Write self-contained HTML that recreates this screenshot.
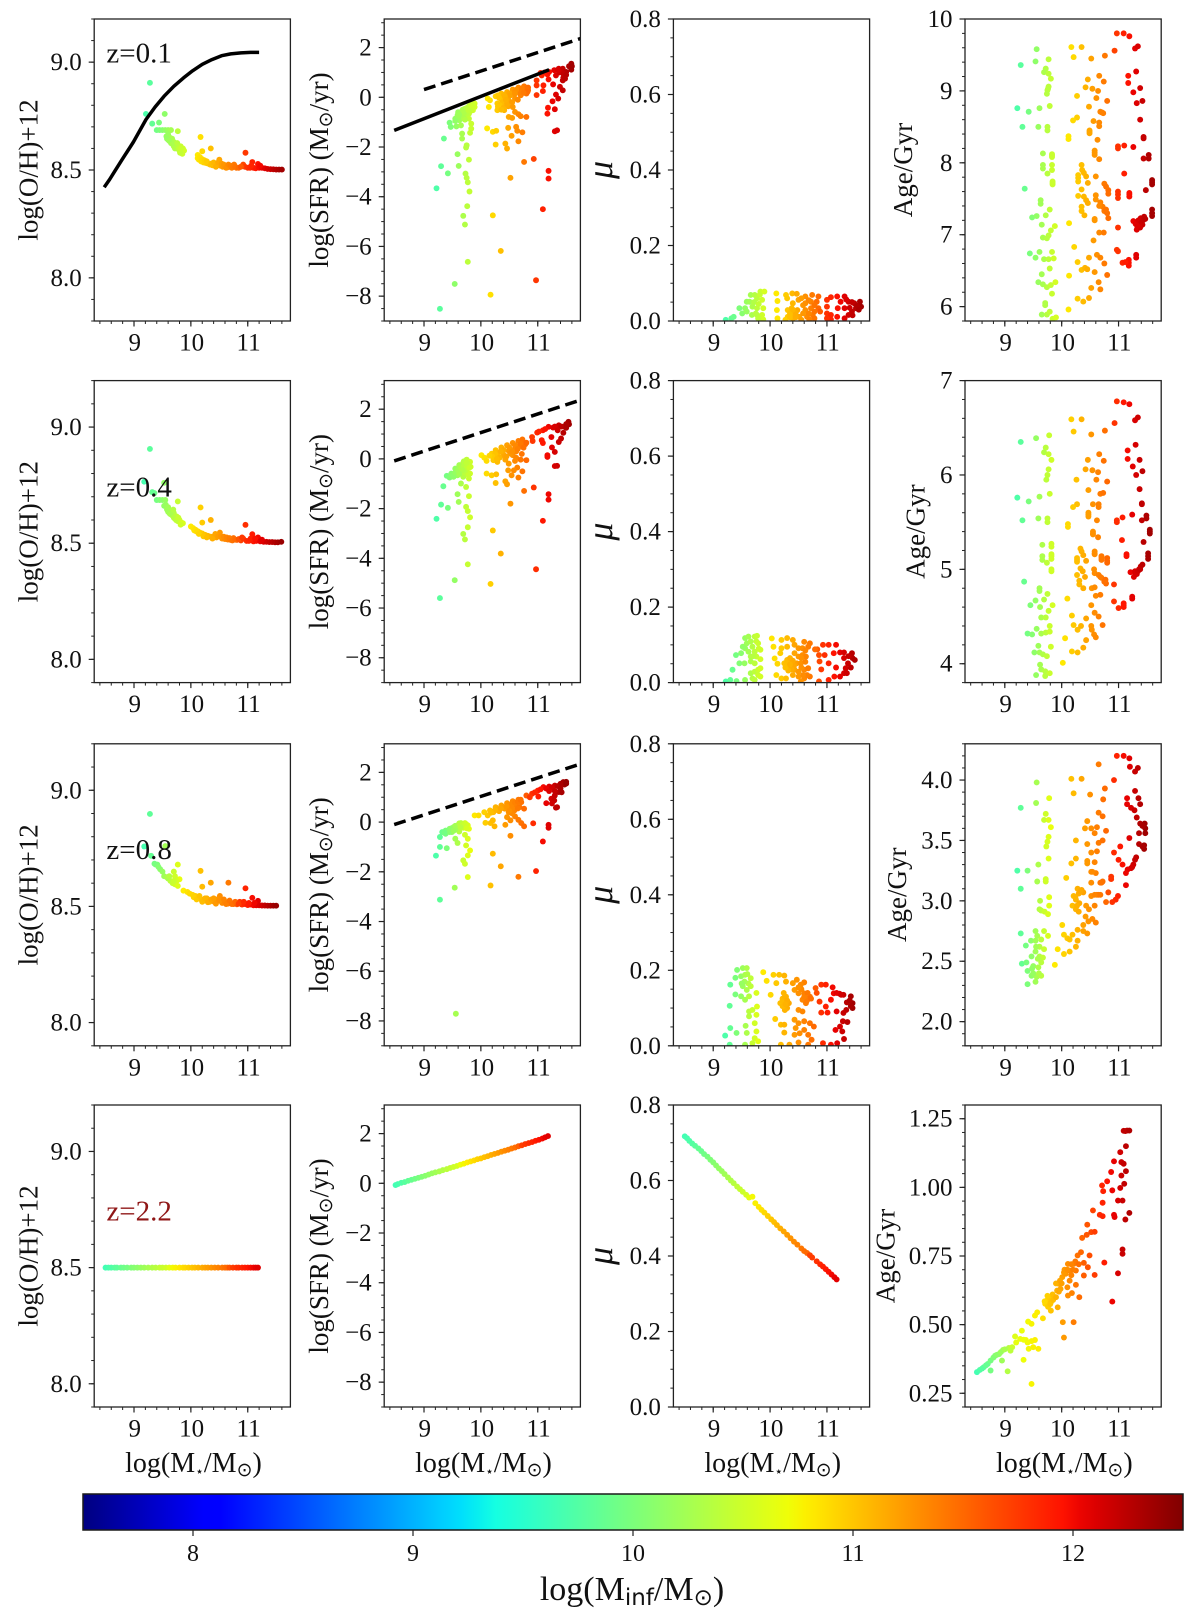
<!DOCTYPE html>
<html><head><meta charset="utf-8"><title>Galaxy scaling relations</title>
<style>html,body{margin:0;padding:0;background:#fff}svg{display:block}text{font-family:"Liberation Serif","DejaVu Serif",serif;fill:#111}</style>
</head><body>
<svg id="fig" xmlns="http://www.w3.org/2000/svg" width="1200" height="1618" viewBox="0 0 1200 1618"><defs id="defs"></defs></svg>
<script>
const massTicks=[9,10,11];
const colorbarTicks=[8,9,10,11,12];
const colorbarRange=[7.5,12.5];
const starMassRange=[8.3,11.75];
const ohRange27=[7.8,9.2];
const ohRange=[7.9,9.2];
const ohTicks=[8.0,8.5,9.0];
const sfrRange=[-9,3.15];
const sfrTicks=[-8,-6,-4,-2,0,2];
const muRange=[0,0.8];
const muTicks=[0,0.2,0.4,0.6,0.8];
const ageRangeZ01=[5.8,10];
const ageRangeZ04=[3.8,7];
const ageRangeZ08=[1.8,4.3];
const ageRangeZ22=[0.2,1.3];
const ageTicksZ01=[6,7,8,9,10];
const ageTicksZ04=[4,5,6,7];
const ageTicksZ08=[2.0,2.5,3.0,3.5,4.0];
const ageTicksZ22=[0.25,0.5,0.75,1.0,1.25];
const redshiftLabels=["z=0.1","z=0.4","z=0.8","z=2.2"];
// stellar mass -> infall mass relation used to colour the points, per redshift
const starZ01=[8.5,9.2,9.9,10.1,10.85,10.95,11.65];
const infZ01=[9.0,9.7,10.55,10.8,11.5,11.75,12.4];
const starZ04=[8.5,9.2,9.85,10.0,10.8,10.9,11.6];
const infZ04=[9.0,9.7,10.55,10.8,11.5,11.75,12.4];
const starZ08=[8.5,9.2,9.75,9.87,10.78,10.85,11.5];
const infZ08=[9.0,9.7,10.55,10.8,11.5,11.75,12.4];
const starZ22=[8.5,9.6,9.65,10.65,10.7,11.2];
const infZ22=[9.65,10.55,10.7,11.5,11.7,12.1];
const starAgeZ22=[8.5,9.1,9.2,9.6,10.0,10.5,10.8,11.2];
const infAgeZ22=[9.65,10.4,10.65,10.8,11.2,11.65,11.95,12.3];
// reference lines
const ohFitX=[8.475,8.57,8.66,8.79,8.99,9.21,9.37,9.53,9.7,9.87,10.03,10.2,10.37,10.54,10.7,10.88,11.05,11.2];
const ohFitY=[8.42,8.456,8.494,8.548,8.63,8.734,8.792,8.842,8.888,8.927,8.96,8.99,9.012,9.03,9.038,9.043,9.045,9.045];
const sfrSolidX=[8.475,11.2];
const sfrSolidY=[-1.33,1.11];
const sfrDashZ01X=[9,11.75];
const sfrDashZ01Y=[0.31,2.36];
const sfrDashZ04X=[8.475,11.7];
const sfrDashZ04Y=[-0.08,2.33];
const sfrDashZ08X=[8.475,11.7];
const sfrDashZ08Y=[-0.1,2.3];
// scatter series: [log Mstar, value]
const ohZ01=[[9.28,8.904],[9.21,8.76],[9.54,8.76],[9.32,8.715],[9.44,8.72],[9.4,8.685],[9.45,8.685],[9.5,8.685],[9.55,8.685],[9.6,8.685],[9.65,8.685],[9.77,8.68],[9.57,8.656],[9.6,8.665],[9.6,8.64],[9.63,8.65],[9.65,8.625],[9.67,8.645],[9.7,8.63],[9.7,8.61],[9.73,8.62],[9.75,8.6],[9.77,8.615],[9.8,8.59],[9.82,8.61],[9.84,8.585],[9.86,8.6],[9.88,8.59],[9.85,8.575],[10.17,8.653],[10.35,8.6],[10.2,8.587],[10.12,8.57],[10.12,8.555],[10.14,8.548],[10.18,8.54],[10.22,8.535],[10.26,8.533],[10.3,8.53],[10.34,8.525],[10.38,8.522],[10.42,8.53],[10.46,8.522],[10.5,8.548],[10.52,8.52],[10.56,8.515],[10.6,8.518],[10.64,8.512],[10.68,8.515],[10.72,8.51],[10.76,8.525],[10.8,8.51],[10.92,8.525],[10.96,8.58],[10.95,8.515],[11.0,8.51],[11.04,8.51],[11.08,8.537],[11.1,8.51],[11.14,8.508],[11.18,8.528],[11.2,8.51],[11.25,8.51],[11.3,8.508],[11.35,8.505],[11.4,8.504],[11.45,8.503],[11.5,8.502],[11.55,8.502],[11.6,8.502]];
const ohZ01Dense=[[9.58,8.645],[9.62,8.635],[9.68,8.62],[9.72,8.6],[9.76,8.625],[9.79,8.6],[9.81,8.58],[9.83,8.6],[10.16,8.56],[10.2,8.55],[10.24,8.545],[10.28,8.54],[10.36,8.53],[10.4,8.535],[10.44,8.515],[10.48,8.535],[10.54,8.53],[10.58,8.525],[10.62,8.51],[10.66,8.525],[10.7,8.52],[10.74,8.515],[10.78,8.515],[10.84,8.51],[10.88,8.515],[11.06,8.52],[11.22,8.52]];
const ohZ04=[[9.28,8.906],[9.18,8.765],[9.36,8.716],[9.32,8.72],[9.53,8.76],[9.4,8.686],[9.45,8.686],[9.5,8.686],[9.55,8.686],[9.77,8.68],[9.53,8.661],[9.56,8.665],[9.58,8.645],[9.6,8.655],[9.62,8.63],[9.65,8.64],[9.67,8.62],[9.7,8.63],[9.72,8.605],[9.75,8.615],[9.77,8.595],[9.8,8.6],[9.83,8.59],[9.86,8.586],[10.17,8.654],[10.35,8.6],[10.2,8.589],[10.0,8.572],[10.04,8.565],[10.08,8.558],[10.12,8.552],[10.16,8.546],[10.2,8.542],[10.25,8.536],[10.3,8.532],[10.35,8.528],[10.41,8.53],[10.45,8.525],[10.51,8.546],[10.55,8.52],[10.6,8.518],[10.65,8.516],[10.7,8.514],[10.75,8.522],[10.81,8.514],[10.88,8.512],[10.92,8.52],[10.96,8.579],[10.98,8.51],[11.02,8.51],[11.08,8.539],[11.1,8.508],[11.15,8.51],[11.18,8.525],[11.22,8.508],[11.28,8.506],[11.33,8.506],[11.38,8.505],[11.43,8.505],[11.48,8.504],[11.53,8.504],[11.59,8.506]];
const ohZ04Dense=[[9.6,8.635],[9.64,8.625],[9.7,8.61],[9.74,8.6],[9.78,8.61],[9.82,8.58],[9.69,8.645],[10.06,8.555],[10.1,8.55],[10.14,8.54],[10.22,8.53],[10.28,8.525],[10.38,8.52],[10.43,8.54],[10.48,8.53],[10.53,8.53],[10.58,8.528],[10.63,8.525],[10.68,8.522],[10.73,8.512],[10.78,8.515],[10.84,8.518],[10.9,8.525],[11.05,8.52],[11.13,8.52],[11.25,8.515]];
const ohZ08=[[9.28,8.898],[9.18,8.758],[9.3,8.718],[9.55,8.76],[9.36,8.684],[9.41,8.68],[9.46,8.66],[9.5,8.65],[9.7,8.65],[9.77,8.68],[9.53,8.63],[9.6,8.62],[9.64,8.61],[9.68,8.6],[9.72,8.595],[9.77,8.588],[9.8,8.617],[9.75,8.61],[9.87,8.568],[10.17,8.653],[10.35,8.602],[10.2,8.585],[10.66,8.602],[10.96,8.578],[11.08,8.537],[11.18,8.524],[10.51,8.545],[9.94,8.562],[9.98,8.555],[10.03,8.55],[10.08,8.545],[10.13,8.535],[10.18,8.53],[10.23,8.525],[10.28,8.535],[10.33,8.52],[10.41,8.52],[10.46,8.53],[10.55,8.515],[10.6,8.52],[10.65,8.512],[10.7,8.515],[10.75,8.51],[10.81,8.509],[10.86,8.52],[10.9,8.508],[10.95,8.51],[11.0,8.506],[11.05,8.508],[11.1,8.505],[11.15,8.505],[11.2,8.505],[11.25,8.504],[11.3,8.504],[11.35,8.503],[11.4,8.503],[11.45,8.503],[11.5,8.503]];
const ohZ08Dense=[[9.38,8.68],[9.43,8.67],[9.58,8.625],[9.62,8.63],[9.72,8.63],[9.7,8.61],[10.05,8.54],[10.1,8.53],[10.15,8.545],[10.2,8.52],[10.25,8.535],[10.3,8.518],[10.36,8.53],[10.4,8.535],[10.44,8.512],[10.5,8.525],[10.58,8.53],[10.62,8.51],[10.68,8.525],[10.72,8.51],[10.78,8.52],[10.84,8.512],[10.93,8.52],[11.02,8.515],[11.12,8.515]];
const ohZ22=[[8.5,8.5],[8.55,8.5],[8.6,8.5],[8.66,8.5],[8.7,8.5],[8.77,8.5],[8.82,8.5],[8.88,8.5],[8.95,8.5],[9.0,8.5],[9.06,8.5],[9.12,8.5],[9.18,8.5],[9.25,8.5],[9.32,8.5],[9.38,8.5],[9.45,8.5],[9.5,8.5],[9.56,8.5],[9.62,8.5],[9.68,8.5],[9.73,8.5],[9.8,8.5],[9.86,8.5],[9.9,8.5],[9.96,8.5],[10.02,8.5],[10.07,8.5],[10.13,8.5],[10.2,8.5],[10.25,8.5],[10.3,8.5],[10.36,8.5],[10.42,8.5],[10.48,8.5],[10.55,8.5],[10.6,8.5],[10.64,8.5],[10.68,8.5],[10.74,8.5],[10.8,8.5],[10.84,8.5],[10.9,8.5],[10.95,8.5],[11.0,8.5],[11.05,8.5],[11.1,8.5],[11.14,8.5],[11.18,8.5]];
const sfrZ01=[[9.45,-1.02],[9.47,-1.19],[9.57,-1.17],[9.65,-1.13],[9.55,-.86],[9.59,-.72],[9.65,-.59],[9.72,-.46],[9.79,-.36],[9.89,-.25],[9.89,-.39],[9.86,-.52],[9.79,-.66],[9.72,-.79],[9.65,-.86],[9.79,-.86],[9.69,-.72],[9.75,-.52],[9.62,-.92],[9.83,-1.06],[9.83,-1.26],[9.81,-1.43],[9.67,-1.46],[9.67,-1.66],[9.75,-1.93],[9.74,-2.02],[9.59,-2.29],[9.79,-2.51],[9.61,-2.76],[9.3,-2.77],[9.42,-3.06],[9.35,-1.66],[9.73,-3.07],[9.75,-3.24],[9.77,-3.42],[9.8,-3.79],[9.22,-3.66],[9.76,-4.38],[9.69,-4.77],[9.72,-5.12],[9.77,-6.62],[9.54,-7.51],[9.28,-8.51],[10.12,-.05],[10.16,-.12],[10.14,-.39],[10.11,-1.25],[10.21,-1.39],[10.27,-1.35],[10.26,-1.9],[10.43,-1.86],[10.46,-2.06],[10.48,-1.23],[10.54,-1.55],[10.62,-1.19],[10.64,-1.35],[10.73,-1.41],[10.66,-1.77],[10.52,-3.24],[10.21,-4.75],[10.35,-6.18],[10.17,-7.94],[10.26,.04],[10.36,.15],[10.46,.21],[10.56,.31],[10.66,.39],[10.76,.44],[10.83,.39],[10.83,.28],[10.76,.25],[10.66,.21],[10.56,.12],[10.46,.01],[10.36,-.08],[10.49,-.12],[10.6,-.05],[10.7,.08],[10.8,.15],[10.29,-.25],[10.36,-.32],[10.43,-.19],[10.33,-.46],[10.41,-.52],[10.29,-.52],[10.48,-.36],[10.56,-.39],[10.6,-.59],[10.66,-.68],[10.49,-.79],[10.55,-.83],[10.7,-.76],[10.8,-.79],[10.98,.68],[10.98,.48],[10.98,.09],[11.1,.48],[11.09,.25],[11.19,.72],[11.17,.92],[11.07,.88],[11.29,1.09],[11.37,1.15],[11.44,1.15],[11.5,1.02],[11.32,.88],[11.44,.68],[11.45,.79],[11.57,1.22],[11.59,1.35],[11.59,1.11],[11.27,.52],[11.39,.42],[11.44,.28],[11.32,.11],[11.36,-.05],[11.26,-.16],[11.18,-.42],[11.17,-.66],[11.3,-.48],[11.3,-1.37],[11.34,-1.33],[11.19,-2.96],[11.19,-3.27],[10.93,-2.48],[10.76,-2.6],[11.09,-4.5],[10.97,-7.36]];
const sfrZ01Dense=[[9.6,-.6],[9.68,-.5],[9.76,-.42],[9.82,-.32],[9.85,-.4],[9.82,-.55],[9.75,-.65],[9.68,-.8],[9.6,-.8],[9.7,-.62],[9.78,-.52],[9.85,-.3],[9.62,-.7],[9.55,-.95],[9.72,-.9],[10.3,.08],[10.4,.1],[10.5,.16],[10.6,.25],[10.7,.3],[10.8,.32],[10.72,.36],[10.62,.3],[10.52,.08],[10.42,.05],[10.32,-.02],[10.7,.15],[10.6,.15],[10.82,.22],[10.75,.18],[10.38,-.2],[10.33,-.32],[10.4,-.42],[10.46,-.28],[10.3,-.38],[10.36,-.5],[10.44,-.1],[10.55,-.2],[10.65,-.1],[11.05,.98],[11.12,1.0],[11.2,1.02],[11.38,1.0],[11.45,.95],[11.5,.9],[11.55,1.25],[11.6,1.25],[11.48,.75],[11.35,1.1]];
const sfrZ04=[[9.22,-2.41],[9.3,-1.84],[9.42,-1.97],[9.34,-1.1],[9.4,-.68],[9.45,-.75],[9.59,-1.42],[9.61,-1.73],[9.79,-1.5],[9.74,-1.93],[9.77,-2.1],[9.81,-2.35],[9.77,-2.75],[9.69,-3.02],[9.72,-3.24],[9.77,-4.24],[9.54,-4.88],[9.28,-5.6],[9.48,-.59],[9.55,-.39],[9.62,-.25],[9.69,-.16],[9.75,-.03],[9.81,-.12],[9.82,-.32],[9.75,-.46],[9.65,-.52],[9.59,-.66],[9.52,-.72],[9.69,-.72],[9.79,-.79],[9.81,-.59],[9.72,-.25],[9.62,-.46],[9.65,-.99],[9.74,-1.13],[10.01,.15],[10.06,.05],[10.1,-.08],[10.1,-.59],[10.19,-.66],[10.27,-.62],[10.26,-.97],[10.43,-.9],[10.46,-1.02],[10.48,-.46],[10.52,-1.8],[10.21,-2.88],[10.35,-3.81],[10.17,-5.03],[10.19,.21],[10.26,.35],[10.36,.46],[10.46,.55],[10.56,.64],[10.66,.72],[10.73,.78],[10.78,.59],[10.68,.51],[10.6,.42],[10.49,.32],[10.39,.21],[10.29,.11],[10.22,-.05],[10.29,-.12],[10.43,-.03],[10.56,.15],[10.62,.05],[10.49,-.19],[10.6,-.08],[10.7,-.03],[10.8,-.05],[10.64,-.35],[10.73,-.5],[10.54,-.66],[10.66,-.75],[10.58,-.46],[10.9,.88],[10.91,.72],[10.99,1.06],[11.09,1.15],[11.19,1.29],[11.27,1.26],[11.37,1.35],[11.47,1.29],[11.54,1.49],[11.55,1.39],[11.07,.75],[11.09,.64],[11.24,.88],[11.41,.82],[11.37,.68],[11.25,.46],[11.3,.28],[11.17,.15],[11.17,.08],[10.97,-4.44],[11.09,-2.49],[10.93,-1.15],[10.76,-1.29],[11.19,-1.42],[11.19,-1.64],[11.3,-.29],[11.34,-.28]];
const sfrZ04Dense=[[9.5,-.65],[9.55,-.55],[9.6,-.45],[9.65,-.35],[9.7,-.3],[9.78,-.2],[9.72,-.55],[9.75,-.35],[9.68,-.45],[9.62,-.6],[9.8,-.35],[9.78,-.65],[9.7,-.1],[9.75,-.15],[10.3,.25],[10.33,.05],[10.4,.36],[10.42,.12],[10.5,.45],[10.52,.22],[10.6,.55],[10.62,.3],[10.7,.6],[10.75,.45],[10.72,.2],[10.65,.4],[10.55,.3],[10.35,.3],[10.25,.2],[10.2,.1],[10.28,0],[10.15,.13],[10.45,.1],[10.8,.65],[11.02,1.1],[11.13,1.2],[11.3,1.3],[11.42,1.3],[11.5,1.25],[11.5,1.4],[11.45,1.05],[11.35,1.15]];
const sfrZ08=[[9.21,-1.35],[9.28,-1.0],[9.4,-1.05],[9.28,-.6],[9.28,-3.12],[9.54,-2.64],[9.56,-7.71],[9.77,-2.21],[9.69,-1.54],[9.72,-1.68],[9.77,-1.34],[9.81,-1.14],[9.74,-.94],[9.77,-.67],[9.72,-.51],[9.55,-.67],[9.59,-.84],[9.32,-.4],[9.38,-.34],[9.45,-.27],[9.52,-.2],[9.59,-.13],[9.65,-.04],[9.72,-.04],[9.77,-.13],[9.79,-.27],[9.69,-.23],[9.59,-.31],[9.49,-.4],[9.62,-.38],[9.38,-.47],[9.89,.27],[9.96,.27],[10.06,.4],[10.16,.47],[10.26,.6],[10.36,.67],[10.46,.76],[10.56,.84],[10.66,.9],[10.12,.27],[10.22,.4],[10.32,.44],[10.42,.54],[10.52,.63],[10.62,.67],[10.71,.8],[10.49,.4],[10.59,.47],[10.68,.6],[10.76,.54],[10.08,-.03],[10.17,-.04],[10.24,-.17],[10.21,.07],[10.43,-.11],[10.46,.2],[10.52,.07],[10.6,.23],[10.66,.09],[10.71,-.04],[10.76,-.17],[10.52,-.55],[10.21,-1.27],[10.35,-1.78],[10.17,-2.55],[10.66,-2.2],[10.8,1.07],[10.9,1.14],[11.0,1.27],[11.1,1.41],[11.2,1.43],[11.3,1.47],[11.4,1.54],[11.45,1.61],[11.47,1.51],[10.86,1.0],[11.01,1.03],[11.15,.76],[11.24,.94],[11.3,1.07],[11.37,1.21],[11.29,.87],[11.32,.58],[11.34,.6],[11.19,-.11],[11.19,-.23],[10.92,-.05],[11.09,-.78],[10.97,-1.97]];
const sfrZ08Dense=[[9.42,-.35],[9.48,-.25],[9.55,-.15],[9.62,-.05],[9.68,-.1],[9.74,-.08],[9.7,-.15],[9.64,-.2],[9.55,-.3],[9.45,-.4],[9.52,-.35],[9.36,-.42],[9.75,-.25],[10.3,.52],[10.4,.6],[10.5,.7],[10.55,.72],[10.6,.78],[10.65,.82],[10.7,.9],[10.45,.62],[10.35,.55],[10.25,.48],[10.18,.38],[10.55,.55],[10.65,.55],[10.55,.35],[10.5,.45],[10.95,1.2],[11.05,1.32],[11.15,1.35],[11.25,1.4],[11.35,1.45],[11.42,1.55],[11.5,1.62],[11.5,1.55],[11.4,1.35],[11.3,1.25],[11.2,1.25],[11.42,1.2],[11.25,.75]];
const sfrZ22=[[8.5,-.07],[8.54,-.03],[8.6,0.02],[8.66,.05],[8.72,.1],[8.78,.14],[8.84,.18],[8.9,.22],[8.96,.26],[9.02,.3],[9.08,.35],[9.14,.4],[9.2,.44],[9.27,.48],[9.33,.53],[9.4,.57],[9.46,.62],[9.52,.66],[9.58,.7],[9.64,.75],[9.7,.79],[9.76,.84],[9.82,.88],[9.88,.92],[9.94,.97],[10.0,1.0],[10.06,1.05],[10.12,1.09],[10.18,1.14],[10.24,1.18],[10.3,1.22],[10.36,1.27],[10.42,1.31],[10.48,1.35],[10.54,1.4],[10.6,1.44],[10.66,1.49],[10.72,1.53],[10.78,1.58],[10.84,1.62],[10.9,1.66],[10.96,1.71],[11.02,1.75],[11.08,1.8],[11.13,1.85],[11.18,1.9]];
const muZ01=[[9.22,.003],[9.32,.007],[9.36,.011],[9.46,.034],[9.51,.02],[9.56,.034],[9.59,.051],[9.66,.069],[9.73,.069],[9.83,.078],[9.9,.078],[9.64,.051],[9.69,.038],[9.77,.06],[9.86,.056],[9.59,.025],[9.68,.016],[9.77,.034],[9.88,.034],[9.86,.016],[9.77,.016],[9.88,.004],[9.79,.007],[10.11,.073],[10.13,.053],[10.12,.029],[10.13,.007],[10.28,.069],[10.39,.073],[10.47,.072],[10.4,.047],[10.3,.06],[10.5,.056],[10.31,.029],[10.38,.034],[10.48,.029],[10.31,.011],[10.41,.016],[10.51,.011],[10.58,.042],[10.55,.003],[10.4,.007],[10.27,.003],[10.62,.065],[10.74,.069],[10.85,.065],[10.62,.047],[10.72,.051],[10.82,.051],[10.62,.029],[10.72,.034],[10.85,.034],[10.65,.011],[10.75,.016],[10.88,.025],[10.78,.007],[10.69,.004],[11.0,.056],[11.07,.063],[11.18,.065],[11.31,.065],[11.0,.038],[11.0,.02],[11.07,.016],[11.19,.034],[11.24,.051],[11.38,.051],[11.48,.047],[11.58,.051],[11.6,.038],[11.51,.034],[11.44,.025],[11.38,.016],[11.31,.007],[11.18,.011],[11.31,.034],[11.07,.004],[11.0,.007]];
const muZ01Dense=[[10.35,.02],[10.45,.022],[10.4,.03],[10.35,.01],[10.45,.01],[9.72,.05],[9.8,.045],[9.82,.07],[9.75,.02],[10.55,.06],[10.58,.02],[10.68,.055],[10.68,.02],[10.78,.042],[10.78,.025],[11.34,.057],[11.44,.05],[11.53,.04],[11.56,.03],[11.4,.035],[11.45,.015]];
const muZ04=[[9.22,.003],[9.3,.007],[9.41,.004],[9.34,.034],[9.4,.073],[9.46,.051],[9.55,.051],[9.49,.078],[9.56,.091],[9.56,.118],[9.62,.122],[9.73,.122],[9.77,.124],[9.52,.095],[9.59,.104],[9.66,.109],[9.76,.109],[9.69,.095],[9.79,.104],[9.62,.082],[9.73,.082],[9.83,.087],[9.66,.069],[9.76,.069],[9.83,.062],[9.66,.056],[9.73,.051],[9.66,.025],[9.73,.029],[9.79,.034],[9.83,.038],[9.79,.02],[9.69,.011],[9.56,.007],[9.73,.007],[9.83,.016],[10.03,.117],[10.06,.095],[10.08,.064],[10.11,.02],[10.2,.011],[10.28,.011],[10.2,.113],[10.3,.118],[10.4,.113],[10.2,.091],[10.3,.095],[10.43,.1],[10.5,.091],[10.18,.078],[10.13,.05],[10.25,.051],[10.32,.06],[10.38,.055],[10.28,.042],[10.35,.038],[10.42,.047],[10.33,.048],[10.6,.108],[10.7,.104],[10.57,.091],[10.67,.095],[10.43,.078],[10.5,.069],[10.57,.073],[10.63,.069],[10.47,.051],[10.54,.051],[10.43,.034],[10.5,.029],[10.6,.034],[10.67,.038],[10.4,.02],[10.5,.016],[10.6,.011],[10.7,.016],[10.54,.003],[10.93,.1],[11.03,.1],[10.83,.088],[11.16,.1],[10.86,.073],[10.96,.073],[10.87,.056],[11.03,.051],[10.9,.035],[11.16,.04],[11.12,.078],[11.23,.08],[11.3,.08],[11.44,.078],[11.45,.065],[11.49,.06],[11.37,.051],[11.33,.038],[11.3,.025],[11.23,.016],[11.13,.016],[11.03,.007],[10.86,.003],[10.79,.088]];
const muZ04Dense=[[10.28,.05],[10.3,.06],[10.35,.065],[10.4,.058],[10.42,.045],[10.38,.035],[10.32,.032],[10.27,.04],[10.35,.048],[10.55,.065],[10.62,.055],[10.55,.04],[10.62,.085],[10.65,.02],[10.58,.02],[11.3,.065],[11.38,.07],[11.42,.04],[11.35,.025],[9.7,.07],[9.8,.09]];
const muZ08=[[9.21,.027],[9.29,.106],[9.3,.047],[9.41,.034],[9.29,.003],[9.56,.003],[9.3,.162],[9.39,.18],[9.42,.201],[9.52,.206],[9.59,.206],[9.49,.184],[9.56,.188],[9.66,.179],[9.39,.136],[9.49,.131],[9.56,.122],[9.63,.131],[9.76,.14],[9.52,.158],[9.66,.158],[9.59,.148],[9.63,.091],[9.69,.095],[9.77,.104],[9.63,.078],[9.76,.082],[9.73,.06],[9.57,.053],[9.59,.034],[9.76,.038],[9.73,.02],[9.79,.012],[9.69,.007],[9.88,.195],[9.94,.172],[10.01,.135],[10.06,.188],[10.16,.188],[10.25,.186],[10.11,.166],[10.28,.17],[10.09,.071],[10.19,.056],[10.25,.056],[10.25,.035],[10.19,.003],[10.34,.003],[10.22,.125],[10.28,.13],[10.22,.113],[10.28,.104],[10.33,.113],[10.26,.095],[10.18,.113],[10.4,.166],[10.47,.175],[10.6,.168],[10.43,.148],[10.54,.162],[10.5,.139],[10.6,.139],[10.7,.13],[10.57,.122],[10.63,.113],[10.5,.095],[10.57,.091],[10.43,.069],[10.5,.06],[10.6,.065],[10.7,.06],[10.77,.051],[10.45,.047],[10.6,.042],[10.43,.029],[10.52,.033],[10.67,.029],[10.73,.016],[10.5,.009],[10.67,.003],[10.8,.153],[10.9,.162],[10.98,.162],[11.1,.155],[10.82,.14],[10.87,.117],[10.98,.104],[11.07,.122],[10.9,.088],[11.01,.088],[11.17,.091],[11.12,.139],[11.22,.138],[11.29,.135],[11.42,.131],[11.35,.115],[11.45,.113],[11.34,.095],[11.45,.1],[11.29,.087],[11.28,.065],[11.36,.063],[11.23,.051],[11.15,.042],[11.27,.038],[11.3,.018],[11.18,.007],[11.07,.003],[10.93,.007]];
const muZ08Dense=[[10.22,.12],[10.26,.13],[10.3,.12],[10.3,.1],[10.26,.095],[10.22,.105],[10.27,.11],[10.24,.14],[10.65,.12],[10.6,.13],[10.55,.15],[10.5,.155],[10.66,.14],[11.17,.14],[11.25,.135],[9.62,.165],[9.55,.17],[9.5,.165],[9.6,.19],[11.4,.12],[11.42,.105],[10.72,.125]];
const muZ22=[[8.5,.717],[8.54,.712],[8.58,.705],[8.63,.698],[8.68,.692],[8.74,.685],[8.79,.678],[8.84,.67],[8.9,.663],[8.95,.655],[9.0,.648],[9.05,.64],[9.1,.632],[9.15,.625],[9.2,.617],[9.26,.608],[9.31,.6],[9.36,.593],[9.42,.584],[9.47,.577],[9.52,.57],[9.58,.562],[9.63,.555],[9.69,.557],[9.74,.54],[9.8,.53],[9.85,.522],[9.9,.515],[9.96,.506],[10.02,.497],[10.07,.49],[10.12,.482],[10.18,.473],[10.24,.465],[10.3,.456],[10.36,.447],[10.42,.438],[10.48,.43],[10.55,.42],[10.6,.413],[10.65,.408],[10.7,.402],[10.74,.396],[10.82,.386],[10.88,.378],[10.93,.372],[10.98,.365],[11.03,.358],[11.08,.351],[11.13,.344],[11.17,.338]];
const ageZ01=[[9.28,9.36],[9.56,9.58],[9.54,9.41],[9.77,9.44],[9.72,9.31],[9.69,9.26],[9.77,9.24],[9.81,9.17],[9.77,9.06],[9.75,9.01],[9.74,8.96],[9.22,8.76],[9.42,8.71],[9.61,8.76],[9.79,8.79],[9.31,8.5],[9.59,8.5],[9.75,8.5],[9.75,8.45],[9.67,8.13],[9.83,8.12],[9.83,8.08],[9.67,7.97],[9.67,7.92],[9.83,7.97],[9.83,7.9],[9.75,7.85],[9.84,7.74],[9.84,7.7],[9.35,7.64],[9.63,7.48],[9.63,7.43],[9.79,7.35],[9.72,7.27],[9.48,7.24],[9.56,7.26],[9.65,7.14],[9.88,7.12],[9.81,7.06],[9.77,6.99],[9.67,6.96],[9.74,6.95],[9.44,6.74],[9.61,6.76],[9.54,6.68],[9.69,6.66],[9.77,6.66],[9.86,6.67],[9.83,6.76],[9.79,6.53],[9.65,6.45],[9.59,6.34],[9.67,6.31],[9.74,6.27],[9.81,6.3],[9.89,6.34],[9.83,6.18],[9.71,6.05],[9.71,6.02],[9.65,5.89],[9.74,5.89],[9.79,5.93],[9.84,5.83],[9.9,5.85],[10.17,9.61],[10.35,9.61],[10.21,9.47],[10.52,9.45],[10.76,9.49],[10.93,9.56],[10.46,9.16],[10.66,9.21],[10.74,9.13],[10.42,9.05],[10.54,9.03],[10.64,9.0],[10.27,8.93],[10.61,8.9],[10.8,8.86],[10.48,8.78],[10.68,8.71],[10.73,8.69],[10.27,8.63],[10.2,8.59],[10.56,8.58],[10.66,8.56],[10.66,8.51],[10.49,8.45],[10.49,8.41],[10.63,8.32],[10.12,8.37],[10.12,8.33],[10.58,8.17],[10.58,8.11],[10.66,8.05],[10.35,7.97],[10.36,7.9],[10.29,7.83],[10.29,7.74],[10.39,7.86],[10.43,7.81],[10.46,7.72],[10.35,7.63],[10.29,7.54],[10.39,7.53],[10.43,7.48],[10.46,7.44],[10.35,7.39],[10.35,7.33],[10.4,7.27],[10.6,7.81],[10.6,7.55],[10.6,7.49],[10.68,7.45],[10.72,7.39],[10.75,7.33],[10.8,7.3],[10.82,7.23],[10.58,7.2],[10.75,7.71],[10.82,7.62],[10.82,7.57],[10.13,7.16],[10.66,7.03],[10.74,7.03],[10.56,6.92],[10.22,6.83],[10.62,6.72],[10.68,6.68],[10.75,6.6],[10.48,6.68],[10.28,6.62],[10.35,6.51],[10.41,6.54],[10.45,6.52],[10.58,6.48],[10.8,6.44],[10.13,6.43],[10.65,6.34],[10.52,6.26],[10.68,6.24],[10.28,6.11],[10.38,6.07],[10.48,6.12],[10.12,5.96],[10.97,9.8],[11.09,9.8],[11.19,9.76],[11.29,9.59],[11.34,9.62],[11.17,9.21],[11.31,9.27],[11.17,9.11],[11.38,9.04],[11.26,8.98],[11.42,8.86],[11.32,8.83],[11.38,8.6],[11.44,8.34],[10.99,8.23],[10.99,8.2],[11.1,8.24],[11.26,8.22],[11.44,8.06],[11.53,8.06],[11.53,8.11],[11.1,7.85],[11.59,7.76],[11.59,7.7],[11.48,7.62],[10.99,7.6],[10.99,7.51],[11.19,7.58],[11.19,7.53],[11.59,7.35],[11.59,7.26],[10.99,7.1],[11.26,7.19],[11.33,7.18],[11.39,7.23],[11.45,7.25],[11.36,7.11],[11.42,7.14],[11.32,7.07],[10.97,6.79],[10.99,6.77],[11.07,6.61],[11.18,6.65],[11.18,6.57],[11.31,6.72],[11.31,6.68]];
const ageZ01Dense=[[11.3,7.15],[11.35,7.2],[11.4,7.17],[11.38,7.1],[11.43,7.2],[11.33,7.12],[11.47,7.22],[11.59,7.3],[11.59,7.73],[11.18,6.61],[11.12,6.62],[10.99,7.56],[11.19,7.56],[10.58,7.22],[10.66,7.4],[10.78,7.35],[10.78,7.67],[10.29,7.79],[10.58,8.14],[10.71,8.7],[10.49,8.43],[11.44,8.36],[9.84,7.72],[9.83,8.1],[9.76,9.03]];
const ageZ04=[[9.28,6.35],[9.55,6.39],[9.78,6.42],[9.72,6.29],[9.69,6.24],[9.77,6.22],[9.82,6.16],[9.77,6.06],[9.75,6.0],[9.73,5.95],[9.22,5.76],[9.42,5.72],[9.61,5.77],[9.79,5.8],[9.31,5.52],[9.59,5.54],[9.75,5.54],[9.75,5.5],[9.66,5.26],[9.82,5.27],[9.82,5.24],[9.66,5.14],[9.66,5.1],[9.82,5.16],[9.82,5.11],[9.74,5.07],[9.82,5.0],[9.82,4.98],[9.34,4.87],[9.61,4.8],[9.61,4.77],[9.75,4.74],[9.69,4.68],[9.54,4.67],[9.45,4.62],[9.62,4.6],[9.84,4.62],[9.77,4.56],[9.64,4.49],[9.72,4.49],[9.4,4.32],[9.48,4.31],[9.56,4.37],[9.64,4.32],[9.72,4.33],[9.79,4.4],[9.79,4.34],[9.59,4.19],[9.52,4.12],[9.61,4.12],[9.67,4.1],[9.74,4.08],[9.81,4.18],[9.62,3.99],[9.64,3.94],[9.55,3.88],[9.71,3.92],[9.79,3.9],[9.71,3.87],[10.17,6.59],[10.35,6.59],[10.21,6.46],[10.52,6.43],[10.76,6.47],[10.93,6.55],[10.46,6.16],[10.66,6.22],[10.74,6.15],[10.42,6.06],[10.54,6.05],[10.64,6.03],[10.26,5.95],[10.61,5.95],[10.8,5.93],[10.47,5.84],[10.68,5.8],[10.73,5.81],[10.27,5.69],[10.2,5.66],[10.55,5.69],[10.65,5.69],[10.65,5.66],[10.47,5.6],[10.47,5.56],[10.62,5.52],[10.11,5.48],[10.11,5.45],[10.55,5.4],[10.55,5.37],[10.64,5.34],[10.33,5.22],[10.35,5.19],[10.27,5.12],[10.27,5.08],[10.38,5.15],[10.43,5.09],[10.58,5.19],[10.58,5.16],[10.7,5.14],[10.7,5.1],[10.8,5.12],[10.8,5.07],[10.27,4.94],[10.33,5.01],[10.37,4.98],[10.41,4.92],[10.57,5.0],[10.58,4.96],[10.65,4.94],[10.7,4.91],[10.77,4.89],[10.78,4.85],[10.31,4.88],[10.31,4.84],[10.38,4.8],[10.53,4.8],[10.58,4.81],[10.1,4.69],[10.6,4.72],[10.68,4.73],[10.52,4.62],[10.18,4.51],[10.58,4.54],[10.65,4.5],[10.43,4.48],[10.21,4.41],[10.28,4.36],[10.34,4.4],[10.52,4.4],[10.53,4.36],[10.72,4.41],[10.57,4.31],[10.6,4.28],[10.43,4.25],[10.06,4.27],[10.38,4.17],[10.18,4.13],[10.28,4.12],[10.02,4.01],[10.97,6.78],[11.09,6.77],[11.19,6.75],[11.29,6.58],[11.34,6.61],[11.3,6.32],[11.16,6.26],[11.16,6.17],[11.37,6.16],[11.25,6.09],[11.42,6.04],[11.31,6.0],[11.37,5.85],[11.41,5.69],[11.24,5.58],[11.07,5.55],[10.97,5.52],[10.97,5.5],[11.49,5.57],[11.49,5.54],[11.41,5.52],[11.55,5.4],[11.55,5.38],[11.06,5.31],[11.44,5.29],[11.14,5.16],[11.14,5.14],[11.52,5.17],[11.52,5.11],[10.92,4.84],[10.92,4.66],[11.0,4.59],[11.09,4.64],[11.09,4.6],[11.24,4.71],[11.21,4.97],[11.27,4.92],[11.29,4.98],[11.36,5.0],[11.39,5.03],[11.32,4.95]];
const ageZ04Dense=[[11.3,4.96],[11.34,4.98],[11.38,5.0],[11.42,5.05],[11.52,5.14],[11.55,5.42],[11.24,4.69],[10.27,5.1],[10.7,5.12],[10.8,5.09],[10.68,4.92],[10.75,4.87],[10.55,5.38],[10.47,5.58],[9.82,5.14],[10.58,5.17],[11.09,4.62],[11.41,5.7]];
const ageZ08=[[9.28,3.77],[9.56,3.98],[9.55,3.81],[9.78,3.85],[9.72,3.72],[9.69,3.67],[9.77,3.67],[9.81,3.61],[9.77,3.53],[9.75,3.49],[9.73,3.45],[9.22,3.25],[9.4,3.25],[9.59,3.3],[9.77,3.35],[9.28,3.1],[9.57,3.16],[9.72,3.18],[9.72,3.16],[9.62,3.0],[9.78,3.03],[9.78,2.96],[9.61,2.93],[9.64,2.92],[9.7,2.91],[9.76,2.89],[9.28,2.73],[9.54,2.75],[9.69,2.75],[9.57,2.71],[9.76,2.71],[9.46,2.67],[9.37,2.63],[9.54,2.67],[9.64,2.68],[9.61,2.62],[9.54,2.58],[9.69,2.6],[9.47,2.54],[9.61,2.54],[9.67,2.53],[9.3,2.48],[9.38,2.49],[9.5,2.46],[9.64,2.49],[9.4,2.42],[9.48,2.44],[9.59,2.45],[9.47,2.38],[9.56,2.37],[9.64,2.38],[9.54,2.33],[9.4,2.31],[10.17,4.01],[10.35,4.01],[10.21,3.89],[10.5,3.88],[10.76,3.93],[10.65,4.13],[10.92,4.0],[10.73,3.84],[10.45,3.66],[10.65,3.73],[10.72,3.7],[10.41,3.6],[10.52,3.6],[10.62,3.61],[10.78,3.58],[10.58,3.56],[10.25,3.5],[10.45,3.47],[10.65,3.48],[10.72,3.5],[10.52,3.4],[10.62,3.41],[10.25,3.35],[10.17,3.31],[10.45,3.33],[10.45,3.31],[10.58,3.32],[10.08,3.19],[10.52,3.24],[10.6,3.23],[10.28,3.1],[10.35,3.09],[10.38,3.07],[10.3,3.06],[10.21,3.04],[10.25,3.01],[10.31,2.98],[10.19,2.96],[10.25,2.93],[10.3,2.91],[10.43,2.96],[10.48,2.93],[10.52,3.15],[10.52,3.04],[10.62,3.05],[10.68,3.15],[10.72,3.16],[10.68,3.05],[10.42,2.87],[10.47,2.83],[10.54,2.85],[10.6,2.82],[10.58,2.96],[10.01,2.8],[10.04,2.72],[10.1,2.69],[10.19,2.72],[10.14,2.68],[10.28,2.76],[10.38,2.75],[10.45,2.73],[10.28,2.67],[10.25,2.62],[10.14,2.58],[9.93,2.6],[10.04,2.56],[9.88,2.47],[10.97,4.2],[11.09,4.2],[11.19,4.18],[11.2,4.11],[11.29,4.07],[11.34,4.1],[11.29,3.91],[11.15,3.85],[11.35,3.85],[11.15,3.8],[11.38,3.8],[11.22,3.77],[11.28,3.75],[11.32,3.69],[11.38,3.64],[11.46,3.64],[11.47,3.6],[11.36,3.56],[11.47,3.56],[11.19,3.52],[11.36,3.47],[11.45,3.46],[11.45,3.43],[11.03,3.45],[10.92,3.4],[11.0,3.34],[11.29,3.34],[11.07,3.3],[11.26,3.3],[11.22,3.27],[11.16,3.26],[11.13,3.23],[10.87,3.2],[10.87,3.18],[11.13,3.13],[10.82,3.07],[10.99,3.04],[10.95,3.01],[10.89,2.99],[10.78,2.99]];
const ageZ08Dense=[[10.27,2.96],[10.24,3.03],[10.33,3.08],[10.38,2.8],[10.65,3.05],[10.7,3.15],[10.58,3.05],[10.54,3.24],[11.31,3.36],[11.24,3.28],[11.42,3.45],[11.42,3.62],[9.55,2.62],[9.58,2.52],[9.5,2.4],[9.6,2.4]];
const ageZ22=[[8.51,.327],[8.56,.335],[8.63,.345],[8.7,.357],[8.75,.369],[8.83,.387],[8.9,.393],[8.97,.408],[9.07,.415],[9.13,.418],[9.27,.448],[9.37,.444],[9.47,.44],[9.53,.444],[9.42,.412],[9.59,.412],[9.5,.418],[9.18,.457],[9.3,.478],[9.41,.511],[9.47,.503],[9.53,.533],[9.57,.545],[9.67,.523],[9.71,.576],[9.74,.588],[9.78,.6],[9.81,.582],[9.81,.551],[9.93,.563],[9.88,.6],[9.92,.624],[9.95,.649],[10.01,.673],[9.98,.63],[10.02,.509],[10.21,.509],[10.04,.453],[10.11,.721],[10.21,.721],[10.07,.685],[10.14,.697],[10.24,.73],[10.25,.697],[10.25,.645],[10.1,.636],[10.18,.615],[10.11,.606],[10.31,.6],[10.39,.725],[10.46,.709],[10.39,.679],[10.28,.752],[10.34,.764],[10.49,.752],[10.58,.681],[10.75,.726],[10.36,.816],[10.44,.827],[10.52,.837],[10.58,.838],[10.45,.864],[10.55,.916],[10.67,.9],[10.72,.895],[10.72,.944],[10.71,1.007],[10.8,1.022],[10.73,.986],[10.89,.989],[10.87,1.056],[10.92,1.095],[10.93,.892],[10.92,.9],[10.99,.952],[11.07,.952],[11.03,.998],[11.1,1.013],[11.05,1.043],[11.13,1.059],[11.05,1.092],[11.09,1.086],[11.03,1.128],[11.13,1.15],[11.09,1.206],[11.15,1.207],[11.12,1.205],[11.19,1.207],[11.12,.883],[11.19,.907],[11.07,.774],[11.07,.758],[10.99,.687],[10.89,.584],[9.47,.284],[9.33,.372],[9.05,.33],[8.75,.333],[8.95,.369],[9.7,.585],[9.76,.565],[9.84,.61],[9.9,.65],[9.97,.66],[10.04,.69],[10.17,.68],[10.14,.66]];
const ageZ22Dense=[[8.6,.34],[8.67,.352],[8.8,.38],[8.86,.39],[8.93,.4],[9.0,.41],[9.1,.405],[9.2,.435],[9.33,.445],[9.4,.435],[9.75,.605],[9.8,.575],[9.85,.59],[9.9,.6],[9.95,.62],[10.0,.65],[10.05,.7],[10.1,.7],[10.17,.72],[10.2,.7],[10.3,.72]];

const svgNS="http://www.w3.org/2000/svg";
const fig=document.getElementById('fig');
const defs=document.getElementById('defs');
const columnLeft=[94.2,384.2,673.4,965];
const rowTop=[19,380.6,743.8,1105];
const panelW=196.2,panelH=302;

function el(tag,attrs,parent){const e=document.createElementNS(svgNS,tag);for(const k in attrs)e.setAttribute(k,attrs[k]);(parent||fig).appendChild(e);return e;}
function lerp(xs,ys,v){if(v<=xs[0])return ys[0];for(let i=1;i<xs.length;i++){if(v<=xs[i])return ys[i-1]+(ys[i]-ys[i-1])*(v-xs[i-1])/(xs[i]-xs[i-1]);}return ys[ys.length-1];}
function jet(t){t=Math.max(0,Math.min(1,t));
 const r=lerp([0,.35,.66,.89,1],[0,0,1,1,.5],t),g=lerp([0,.125,.375,.64,.91,1],[0,0,1,1,0,0],t),b=lerp([0,.11,.34,.65,1],[.5,1,1,0,0],t);
 return 'rgb('+Math.round(r*255)+','+Math.round(g*255)+','+Math.round(b*255)+')';}
function colorFor(m){return jet((m-colorbarRange[0])/(colorbarRange[1]-colorbarRange[0]));}
function fmtMinus(s){return String(s).replace('-','\u2212');}
function ticksBetween(lo,hi,step){const out=[];const n0=Math.ceil(lo/step-1e-6),n1=Math.floor(hi/step+1e-6);for(let i=n0;i<=n1;i++)out.push(+(i*step).toFixed(4));return out;}

function drawPanel(cfg){
 const L=columnLeft[cfg.col],T=rowTop[cfg.row];
 const sx=v=>L+(v-starMassRange[0])/(starMassRange[1]-starMassRange[0])*panelW;
 const sy=v=>T+panelH-(v-cfg.yr[0])/(cfg.yr[1]-cfg.yr[0])*panelH;
 const g=el('g',{});
 
 
 const cid='clip-'+cfg.name;
 const cp=el('clipPath',{id:cid},defs);
 el('rect',{x:L,y:T,width:panelW,height:panelH},cp);
 const marks=el('g',{'clip-path':'url(#'+cid+')'},g);
 
 
 cfg.pts.forEach(p=>{
  const c=el('circle',{cx:sx(p[0]).toFixed(2),cy:sy(p[1]).toFixed(2),r:2.95,fill:colorFor(lerp(cfg.star,cfg.inf,p[0]))},marks);
  
  
 });
 (cfg.lines||[]).forEach(ln=>{
  const d=ln.x.map((v,i)=>sx(v).toFixed(1)+','+sy(ln.y[i]).toFixed(1)).join(' ');
  const a={points:d,fill:'none',stroke:'#000','stroke-width':3.5,'stroke-linejoin':'round'};
  if(ln.dash)a['stroke-dasharray']='12 6';
  const pl=el('polyline',a,g);
  
  
 });
 const frame=el('rect',{x:L,y:T,width:panelW,height:panelH,fill:'none',stroke:'#222','stroke-width':1.3},g);
 
 
 const xAxis=el('g',{},g);
 
 
 ticksBetween(starMassRange[0],starMassRange[1],0.2).forEach(v=>{el('line',{x1:sx(v),x2:sx(v),y1:T+panelH,y2:T+panelH+3,stroke:'#222','stroke-width':1},xAxis);});
 massTicks.forEach(v=>{
  el('line',{x1:sx(v),x2:sx(v),y1:T+panelH,y2:T+panelH+5.5,stroke:'#222','stroke-width':1.2},xAxis);
  const t=el('text',{x:sx(v)+0.8,y:T+panelH+29.5,'text-anchor':'middle','font-size':25},xAxis);
  t.textContent=v;
  
  
 });
 const yAxis=el('g',{},g);
 
 
 ticksBetween(cfg.yr[0],cfg.yr[1],cfg.minor).forEach(v=>{el('line',{x1:L,x2:L-3,y1:sy(v),y2:sy(v),stroke:'#222','stroke-width':1},yAxis);});
 cfg.yt.forEach(v=>{
  el('line',{x1:L,x2:L-5.5,y1:sy(v),y2:sy(v),stroke:'#222','stroke-width':1.2},yAxis);
  const t=el('text',{x:L-12.5,y:sy(v)+8,'text-anchor':'end','font-size':25},yAxis);
  t.textContent=fmtMinus(cfg.dec===undefined?v:v.toFixed(cfg.dec));
  
  
 });
 const yc=T+panelH/2;
 const lb=el('text',{x:0,y:0,'text-anchor':'middle','font-size':cfg.titleSize||27,transform:'translate('+cfg.titleX+','+yc+') rotate(-90)','font-style':cfg.titleItalic?'italic':'normal'},g);
 lb.innerHTML=cfg.title;
 
 
 if(cfg.row===3){
  const xl=el('text',{x:L+cfg.xlabelShift,y:1472,'text-anchor':'middle','font-size':28},g);
  xl.innerHTML='log(M<tspan dy="4" font-size="14" font-family="DejaVu Sans">\u22C6</tspan><tspan dy="-4">/M</tspan><tspan dy="4" font-size="19" font-family="DejaVu Sans">\u2299</tspan><tspan dy="-4">)</tspan>';
  
  
 }
 if(cfg.z!==undefined){
  const zt=el('text',{x:106.4,y:cfg.zY,'font-size':29},g);
  zt.style.fill=cfg.row===3?'#8f1616':'#111';
  zt.textContent=redshiftLabels[cfg.z];
  
  
 }
}
const OH='log(O/H)+12';
const SFR='log(SFR) (M<tspan dy="4" font-size="19" font-family="DejaVu Sans">\u2299</tspan><tspan dy="-4">/yr)</tspan>';
const AGE='Age/Gyr';
const MU='\u03BC';
const zY=[62.7,496.7,859,1220.7];
const rowStar=[starZ01,starZ04,starZ08,starZ22];
const rowInf=[infZ01,infZ04,infZ08,infZ22];
const ohSets=[ohZ01.concat(ohZ01Dense),ohZ04.concat(ohZ04Dense),ohZ08.concat(ohZ08Dense),ohZ22];
const sfrSets=[sfrZ01.concat(sfrZ01Dense),sfrZ04.concat(sfrZ04Dense),sfrZ08.concat(sfrZ08Dense),sfrZ22];
const muSets=[muZ01.concat(muZ01Dense),muZ04.concat(muZ04Dense),muZ08.concat(muZ08Dense),muZ22];
const ageSets=[ageZ01.concat(ageZ01Dense),ageZ04.concat(ageZ04Dense),ageZ08.concat(ageZ08Dense),ageZ22.concat(ageZ22Dense)];
const tags=['z01','z04','z08','z22'];
const sfrLines=[
 [{x:sfrSolidX,y:sfrSolidY},{x:sfrDashZ01X,y:sfrDashZ01Y,dash:true}],
 [{x:sfrDashZ04X,y:sfrDashZ04Y,dash:true}],
 [{x:sfrDashZ08X,y:sfrDashZ08Y,dash:true}],
 []];
const ageCfg=[
 {yr:ageRangeZ01,yt:ageTicksZ01,minor:0.2,titleX:912},
 {yr:ageRangeZ04,yt:ageTicksZ04,minor:0.2,titleX:924.5},
 {yr:ageRangeZ08,yt:ageTicksZ08,minor:0.1,dec:1,titleX:906},
 {yr:ageRangeZ22,yt:ageTicksZ22,minor:0.05,dec:2,titleX:894.7}];
for(let r=0;r<4;r++){
 drawPanel({name:'oh-panel-'+tags[r],row:r,col:0,pts:ohSets[r],star:rowStar[r],inf:rowInf[r],yr:r===0?ohRange27:ohRange,yt:ohTicks,minor:0.1,dec:1,title:OH,titleX:37.5,z:r,zY:zY[r],xlabelShift:99.3,lines:r===0?[{x:ohFitX,y:ohFitY}]:[]});
 drawPanel({name:'sfr-panel-'+tags[r],row:r,col:1,pts:sfrSets[r],star:rowStar[r],inf:rowInf[r],yr:sfrRange,yt:sfrTicks,minor:0.5,title:SFR,titleX:328,xlabelShift:99.3,lines:sfrLines[r]});
 drawPanel({name:'mu-panel-'+tags[r],row:r,col:2,pts:muSets[r],star:rowStar[r],inf:rowInf[r],yr:muRange,yt:muTicks,minor:0.05,dec:1,title:MU,titleX:612,titleSize:36,titleItalic:true,xlabelShift:99.3});
 const a=ageCfg[r];
 drawPanel({name:'age-panel-'+tags[r],row:r,col:3,pts:ageSets[r],star:r===3?starAgeZ22:rowStar[r],inf:r===3?infAgeZ22:rowInf[r],yr:a.yr,yt:a.yt,minor:a.minor,dec:a.dec,title:AGE,titleX:a.titleX,xlabelShift:99.3});
}
// colorbar
(function(){
 const X0=83,X1=1183,Y0=1494,Y1=1530;
 const grad=el('linearGradient',{id:'jetgrad',x1:0,x2:1,y1:0,y2:0},defs);
 for(let i=0;i<=64;i++){el('stop',{offset:(i/64),'stop-color':jet(i/64)},grad);}
 const g=el('g',{});
 
 
 const rc=el('rect',{x:X0,y:Y0,width:X1-X0,height:Y1-Y0,fill:'url(#jetgrad)',stroke:'#1a1a1a','stroke-width':1.5},g);
 
 
 const cx=v=>X0+(v-colorbarRange[0])/(colorbarRange[1]-colorbarRange[0])*(X1-X0);
 colorbarTicks.forEach(v=>{
  el('line',{x1:cx(v),x2:cx(v),y1:Y1,y2:Y1+6,stroke:'#222','stroke-width':1.2},g);
  const t=el('text',{x:cx(v),y:1561,'text-anchor':'middle','font-size':24},g);
  t.textContent=v;
  
  
 });
 const tt=el('text',{x:632,y:1600,'text-anchor':'middle','font-size':34},g);
 tt.innerHTML='log(M<tspan dy="5" font-size="23" font-family="DejaVu Sans">inf</tspan><tspan dy="-5">/M</tspan><tspan dy="5" font-size="23" font-family="DejaVu Sans">\u2299</tspan><tspan dy="-5">)</tspan>';
 
 
})();
</script>
</body></html>
